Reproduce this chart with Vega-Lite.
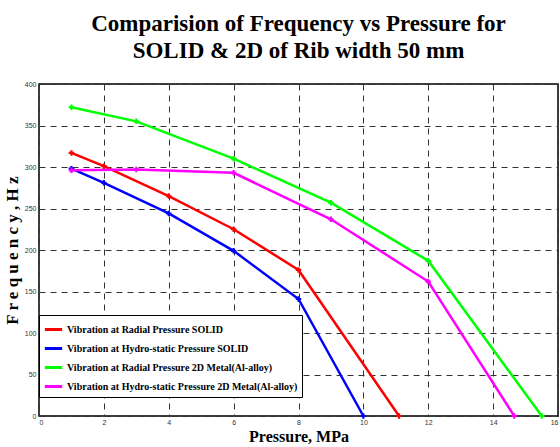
{
  "$schema": "https://vega.github.io/schema/vega-lite/v6.json",
  "width": 519,
  "height": 332,
  "autosize": {"type": "none"},
  "padding": {"left": 39, "top": 84, "right": 2, "bottom": 31},
  "background": "white",
  "title": {
    "text": ["Comparision of Frequency vs Pressure for", "SOLID & 2D of Rib width 50 mm"],
    "font": "Liberation Serif",
    "fontSize": 23,
    "fontWeight": "bold",
    "lineHeight": 27,
    "color": "black",
    "anchor": "middle",
    "offset": 17
  },
  "config": {
    "view": {"stroke": "black", "strokeWidth": 1.5},
    "axis": {
      "labelFont": "Liberation Sans",
      "labelFontSize": 7,
      "labelColor": "#333",
      "grid": true,
      "gridColor": "#333",
      "gridDash": [6, 5],
      "gridWidth": 1,
      "ticks": false,
      "domain": false,
      "titleFont": "Liberation Serif",
      "titleFontWeight": "bold",
      "titleColor": "black"
    }
  },
  "data": {
    "values": [
      {"s": "Vibration at Radial Pressure SOLID", "p": 1, "f": 317},
      {"s": "Vibration at Radial Pressure SOLID", "p": 2, "f": 301},
      {"s": "Vibration at Radial Pressure SOLID", "p": 4, "f": 265},
      {"s": "Vibration at Radial Pressure SOLID", "p": 6, "f": 225},
      {"s": "Vibration at Radial Pressure SOLID", "p": 8, "f": 176},
      {"s": "Vibration at Radial Pressure SOLID", "p": 11.1, "f": 0},
      {"s": "Vibration at Hydro-static Pressure SOLID", "p": 1, "f": 298},
      {"s": "Vibration at Hydro-static Pressure SOLID", "p": 2, "f": 281},
      {"s": "Vibration at Hydro-static Pressure SOLID", "p": 4, "f": 244},
      {"s": "Vibration at Hydro-static Pressure SOLID", "p": 6, "f": 199},
      {"s": "Vibration at Hydro-static Pressure SOLID", "p": 8, "f": 141},
      {"s": "Vibration at Hydro-static Pressure SOLID", "p": 10, "f": 0},
      {"s": "Vibration at Radial Pressure 2D Metal(Al-alloy)", "p": 1, "f": 372},
      {"s": "Vibration at Radial Pressure 2D Metal(Al-alloy)", "p": 3, "f": 355},
      {"s": "Vibration at Radial Pressure 2D Metal(Al-alloy)", "p": 6, "f": 310},
      {"s": "Vibration at Radial Pressure 2D Metal(Al-alloy)", "p": 9, "f": 257},
      {"s": "Vibration at Radial Pressure 2D Metal(Al-alloy)", "p": 12, "f": 187},
      {"s": "Vibration at Radial Pressure 2D Metal(Al-alloy)", "p": 15.5, "f": 0},
      {"s": "Vibration at Hydro-static Pressure 2D Metal(Al-alloy)", "p": 1, "f": 296},
      {"s": "Vibration at Hydro-static Pressure 2D Metal(Al-alloy)", "p": 3, "f": 297},
      {"s": "Vibration at Hydro-static Pressure 2D Metal(Al-alloy)", "p": 6, "f": 293},
      {"s": "Vibration at Hydro-static Pressure 2D Metal(Al-alloy)", "p": 9, "f": 237},
      {"s": "Vibration at Hydro-static Pressure 2D Metal(Al-alloy)", "p": 12, "f": 162},
      {"s": "Vibration at Hydro-static Pressure 2D Metal(Al-alloy)", "p": 14.65, "f": 0}
    ]
  },
  "encoding": {
    "x": {
      "field": "p", "type": "quantitative",
      "scale": {"domain": [0, 16], "nice": false},
      "axis": {"values": [0, 2, 4, 6, 8, 10, 12, 14, 16], "title": "Pressure, MPa", "titleFontSize": 16, "labelPadding": 2, "titlePadding": 3}
    },
    "y": {
      "field": "f", "type": "quantitative",
      "scale": {"domain": [0, 400], "nice": false},
      "axis": {"values": [0, 50, 100, 150, 200, 250, 300, 350, 400], "title": "F  r  e  q  u  e  n  c  y ,  H  z", "titleFontSize": 17, "labelPadding": 3, "titlePadding": 3}
    },
    "color": {
      "field": "s", "type": "nominal",
      "scale": {
        "domain": [
          "Vibration at Radial Pressure SOLID",
          "Vibration at Hydro-static Pressure SOLID",
          "Vibration at Radial Pressure 2D Metal(Al-alloy)",
          "Vibration at Hydro-static Pressure 2D Metal(Al-alloy)"
        ],
        "range": ["#ff0000", "#0000ff", "#00ff00", "#ff00ff"]
      }
    }
  },
  "layer": [
    {
      "mark": {"type": "line", "strokeWidth": 2.5},
      "encoding": {
        "color": {
          "field": "s", "type": "nominal",
          "legend": {
            "title": null,
            "orient": "none",
            "legendX": 0,
            "legendY": 231,
            "symbolType": "stroke",
            "symbolStrokeWidth": 3,
            "symbolSize": 300,
            "labelFont": "Liberation Serif",
            "labelFontWeight": "bold",
            "labelFontSize": 10,
            "labelColor": "black",
            "labelLimit": 400,
            "labelOffset": 3,
            "rowPadding": 2,
            "padding": 4,
            "strokeColor": "black",
            "fillColor": "white",
            "cornerRadius": 0
          }
        }
      }
    },
    {
      "mark": {"type": "point", "shape": "cross", "filled": true, "size": 30, "opacity": 1},
      "encoding": {"color": {"field": "s", "type": "nominal", "legend": null}}
    }
  ]
}
